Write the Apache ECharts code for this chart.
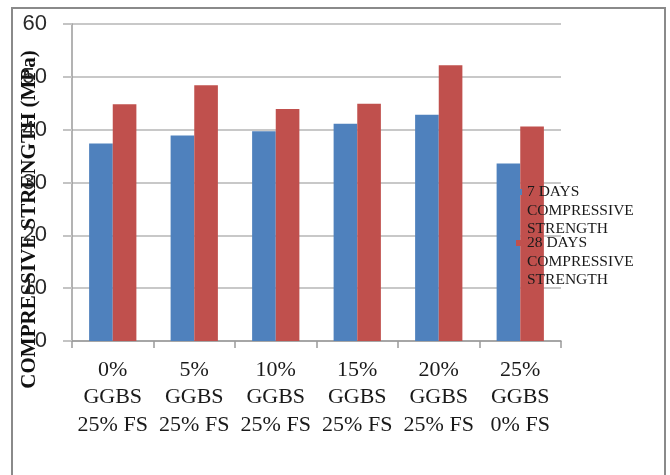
<!DOCTYPE html>
<html>
<head>
<meta charset="utf-8">
<script src="https://cdn.jsdelivr.net/npm/echarts@6/dist/echarts.min.js"></script>
<style>
html,body{margin:0;padding:0;background:#fff;}
#chart{width:670px;height:475px;}
</style>
</head>
<body>
<div id="chart"></div>
<script>
const categories = ['0%\nGGBS\n25% FS', '5%\nGGBS\n25% FS', '10%\nGGBS\n25% FS', '15%\nGGBS\n25% FS', '20%\nGGBS\n25% FS', '25%\nGGBS\n0% FS'];
const days7 = [37.4, 38.9, 39.7, 41.1, 42.8, 33.6];
const days28 = [44.8, 48.4, 43.9, 44.9, 52.2, 40.6];
const seriesNames = ['7 DAYS\nCOMPRESSIVE\nSTRENGTH', '28 DAYS\nCOMPRESSIVE\nSTRENGTH'];
const yAxisName = 'COMPRESSIVE STRENGTH (MPa)';

const chart = echarts.init(document.getElementById('chart'), null, {renderer: 'canvas'});
const serif = '"Liberation Serif", "DejaVu Serif", serif';
chart.setOption({
  animation: false,
  backgroundColor: '#ffffff',
  graphic: [{
    type: 'rect', silent: true, z: -10,
    shape: {x: 12, y: 8, width: 653, height: 490},
    style: {fill: 'none', stroke: '#8a8a8a', lineWidth: 2}
  }],
  grid: {left: 72, right: 109, top: 24, bottom: 134, containLabel: false, outerBoundsMode: 'none'},
  legend: {
    orient: 'vertical',
    left: 516, top: 183, padding: 0,
    itemWidth: 6, itemHeight: 55.5, itemGap: -4.5,
    icon: 'path://M0 0L0.01 0M0 6L6 6L6 12L0 12ZM0 55.5L0.01 55.5',
    textStyle: {fontFamily: serif, fontSize: 15.5, lineHeight: 18.5, color: '#1a1a1a'},
    data: seriesNames
  },
  xAxis: {
    type: 'category',
    data: categories,
    axisLine: {lineStyle: {color: '#9a9a9a', width: 1.5}},
    axisTick: {show: true, length: 7, lineStyle: {color: '#9a9a9a', width: 1.5}},
    axisLabel: {interval: 0, margin: 15, fontFamily: serif, fontSize: 22, lineHeight: 27.5, color: '#1a1a1a', align: 'center'}
  },
  yAxis: {
    type: 'value',
    min: 0, max: 60, interval: 10,
    name: yAxisName,
    nameLocation: 'middle',
    nameGap: 32,
    nameMoveOverlap: false,
    nameTextStyle: {fontFamily: serif, fontSize: 21, fontWeight: 'bold', color: '#111', padding: [0, 74, 0, 0]},
    axisLine: {show: true, lineStyle: {color: '#9a9a9a', width: 1.5}},
    axisTick: {show: true, length: 9, lineStyle: {color: '#c4c4c4', width: 2}},
    axisLabel: {margin: 25, fontFamily: '"Liberation Sans", Arial, sans-serif', fontSize: 22, color: '#2a2a2a'},
    splitLine: {lineStyle: {color: '#c8c8c8', width: 2}}
  },
  series: [
    {name: seriesNames[0], type: 'bar', data: days7, barGap: '0%', barCategoryGap: '42%', itemStyle: {color: '#4F81BD'}},
    {name: seriesNames[1], type: 'bar', data: days28, barGap: '0%', barCategoryGap: '42%', itemStyle: {color: '#C0504D'}}
  ]
});
</script>
</body>
</html>
